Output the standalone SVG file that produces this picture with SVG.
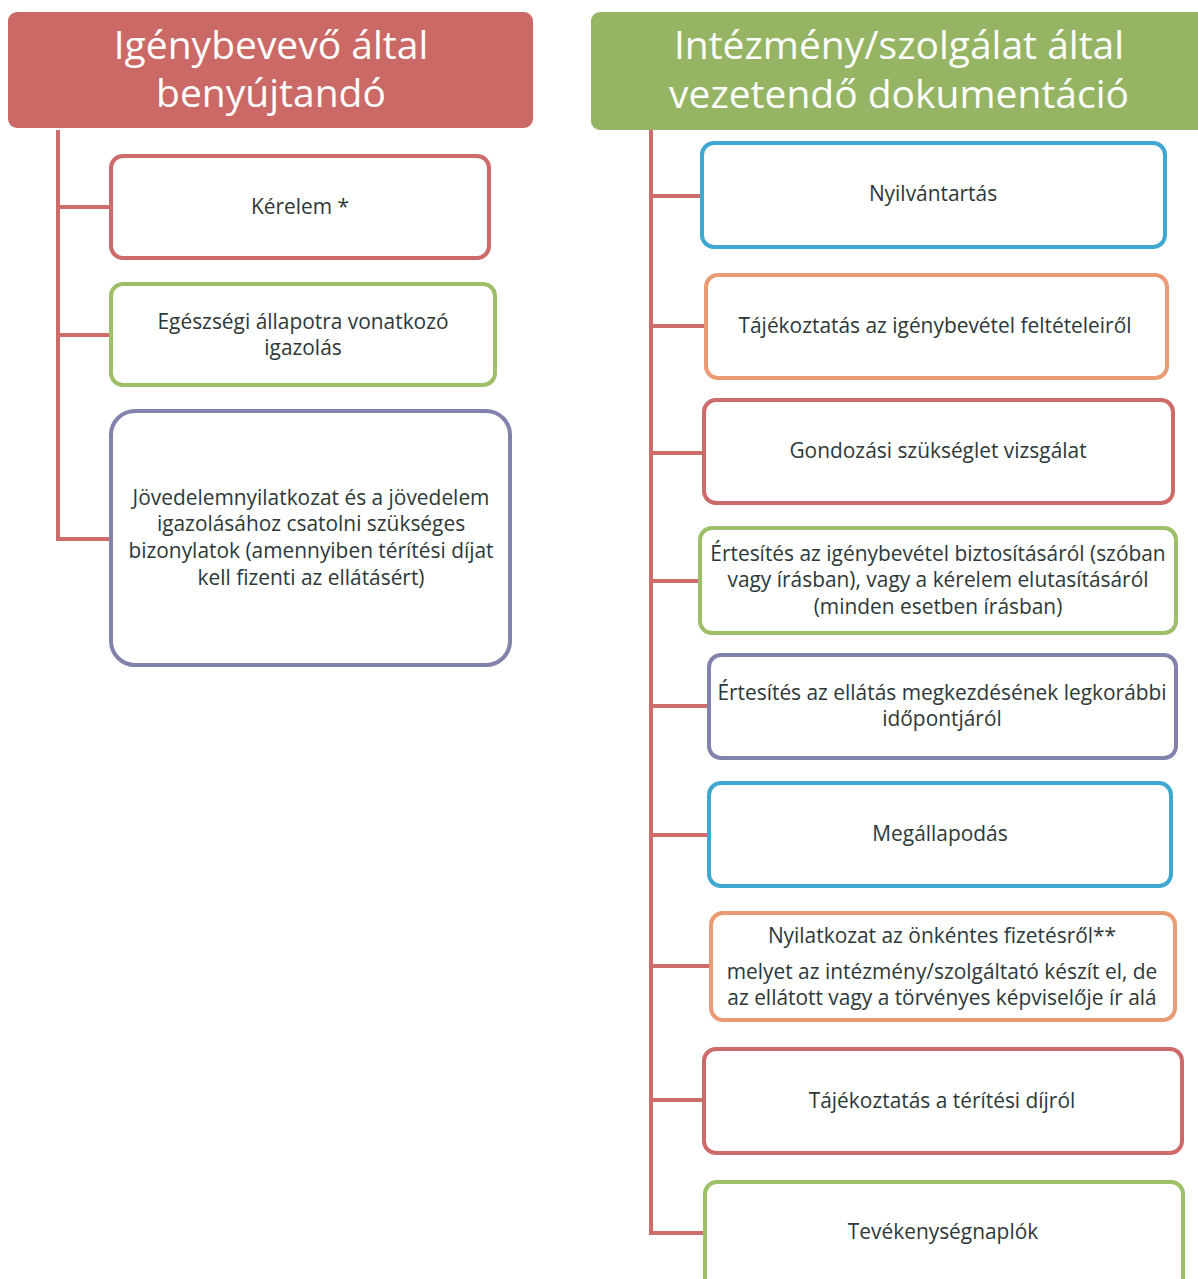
<svg xmlns="http://www.w3.org/2000/svg" width="1198" height="1279" viewBox="0 0 1198 1279">
<style>
.hdr{stroke:none}
.hl{font-family:"Open Sans","Noto Sans","Liberation Sans",sans-serif;font-size:39px;fill:#ffffff;text-anchor:middle}
.box{fill:#ffffff;stroke-width:4}
.t{font-family:"Open Sans","Noto Sans","Liberation Sans",sans-serif;font-size:20.9px;fill:#2e3838;text-anchor:middle}
.red{stroke:#cc6b6a}
.green{stroke:#9cbf67}
.blue{stroke:#3ea8d0}
.orange{stroke:#eb9b74}
.purple{stroke:#8183ac}
.conn{fill:none;stroke:#cc6d6b;stroke-width:4}
</style>
<rect width="1198" height="1279" fill="#ffffff"/>
<g id="connectors">
<path class="conn" d="M58,130 V539 H111 M58,207 H111 M58,335 H111"/>
<path class="conn" d="M651,130 V1233 H705 M651,196 H702 M651,326 H706 M651,453 H704 M651,581 H700 M651,706 H709 M651,835 H709 M651,966 H711 M651,1100 H704"/>
</g>
<g id="header-left">
<rect class="hdr" x="8" y="12" width="525" height="116" rx="9" fill="#cb6966"/>
<text class="hl" x="271" y="59">Igénybevevő által</text>
<text class="hl" x="271" y="107">benyújtandó</text>
</g>
<g id="header-right">
<rect class="hdr" x="591" y="12" width="620" height="118" rx="9" fill="#95b464"/>
<text class="hl" x="899" y="59">Intézmény/szolgálat által</text>
<text class="hl" x="899" y="108">vezetendő dokumentáció</text>
</g>
<g id="kerelem">
<rect class="box red" x="111" y="156" width="378" height="102" rx="12"/>
<text class="t" x="300" y="214">Kérelem *</text>
</g>
<g id="egeszsegi">
<rect class="box green" x="111" y="284" width="384" height="101" rx="12"/>
<text class="t" x="303" y="329">Egészségi állapotra vonatkozó</text>
<text class="t" x="303" y="355">igazolás</text>
</g>
<g id="jovedelem">
<rect class="box purple" x="111" y="411" width="399" height="254" rx="24"/>
<text class="t" x="311" y="505">Jövedelemnyilatkozat és a jövedelem</text>
<text class="t" x="311" y="531">igazolásához csatolni szükséges</text>
<text class="t" x="311" y="558">bizonylatok (amennyiben térítési díjat</text>
<text class="t" x="311" y="585">kell fizenti az ellátásért)</text>
</g>
<g id="nyilvantartas">
<rect class="box blue" x="702" y="143" width="463" height="104" rx="12"/>
<text class="t" x="933" y="201">Nyilvántartás</text>
</g>
<g id="tajekoztatas-feltetelek">
<rect class="box orange" x="706" y="275" width="461" height="103" rx="12"/>
<text class="t" x="935" y="333">Tájékoztatás az igénybevétel feltételeiről</text>
</g>
<g id="gondozasi">
<rect class="box red" x="704" y="400" width="469" height="103" rx="12"/>
<text class="t" x="938" y="458">Gondozási szükséglet vizsgálat</text>
</g>
<g id="ertesites-biztositas">
<rect class="box green" x="700" y="528" width="476" height="105" rx="12"/>
<text class="t" x="938" y="561">Értesítés az igénybevétel biztosításáról (szóban</text>
<text class="t" x="938" y="587">vagy írásban), vagy a kérelem elutasításáról</text>
<text class="t" x="938" y="614">(minden esetben írásban)</text>
</g>
<g id="ertesites-kezdes">
<rect class="box purple" x="709" y="655" width="467" height="103" rx="12"/>
<text class="t" x="942" y="700">Értesítés az ellátás megkezdésének legkorábbi</text>
<text class="t" x="942" y="726">időpontjáról</text>
</g>
<g id="megallapodas">
<rect class="box blue" x="709" y="783" width="462" height="103" rx="12"/>
<text class="t" x="940" y="841">Megállapodás</text>
</g>
<g id="nyilatkozat">
<rect class="box orange" x="711" y="913" width="464" height="107" rx="12"/>
<text class="t" x="942" y="943">Nyilatkozat az önkéntes fizetésről**</text>
<text class="t" x="942" y="979">melyet az intézmény/szolgáltató készít el, de</text>
<text class="t" x="942" y="1005">az ellátott vagy a törvényes képviselője ír alá</text>
</g>
<g id="tajekoztatas-dij">
<rect class="box red" x="704" y="1049" width="478" height="104" rx="12"/>
<text class="t" x="942" y="1108">Tájékoztatás a térítési díjról</text>
</g>
<g id="tevekenysegnaplok">
<rect class="box green" x="705" y="1182" width="478" height="110" rx="12"/>
<text class="t" x="943" y="1239">Tevékenységnaplók</text>
</g>
</svg>
